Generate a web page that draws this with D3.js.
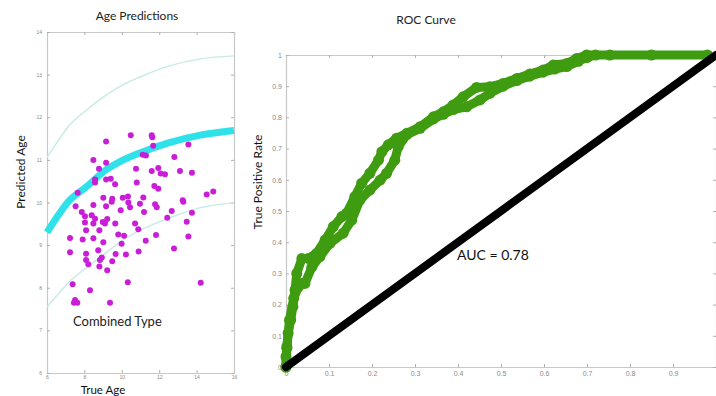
<!DOCTYPE html>
<html>
<head>
<meta charset="utf-8">
<script src="https://cdn.jsdelivr.net/npm/d3@7"></script>
<style>
  body { margin: 0; background: #fff; }
  svg { display: block; font-family: Lato, "Liberation Sans", sans-serif; }
  .tick text { fill: #8a8a8a; }
  .frame path.domain { stroke: #c8c8c8; }
  .frame .tick line { stroke: #b0b0b0; }
</style>
</head>
<body>
<svg id="svg" width="716" height="396"></svg>
<script>
// ---- Age Predictions data ----
const ageTicks = [6, 8, 10, 12, 14, 16];
const predTicks = [6, 7, 8, 9, 10, 11, 12, 13, 14];
const curveAge = [6, 6.6, 7.1, 8.2, 9.1, 10.0, 11.0, 12.5, 14.2, 16];
const midPred = [9.3, 9.7, 10.0, 10.4, 10.75, 10.98, 11.17, 11.4, 11.58, 11.69];
const upperPred = [11.06, 11.45, 11.76, 12.2, 12.5, 12.75, 12.95, 13.2, 13.37, 13.44];
const lowerPred = [7.55, 7.85, 8.1, 8.5, 8.8, 9.1, 9.35, 9.63, 9.88, 9.99];
const trueAge = [9.16, 10.48, 11.6, 11.63, 11.68, 13.56, 11.12, 11.29, 8.48, 9.16,
  8.78, 10.76, 11.6, 11.95, 12.08, 12.31, 12.81, 13.11, 13.75, 8.57,
  8.57, 9.16, 9.41, 9.64, 10.8, 11.74, 11.95, 7.64, 14.54, 14.89,
  9.01, 9.49, 10.05, 10.33, 11.15, 13.26, 7.53, 8.48, 9.16, 9.46,
  9.94, 10.35, 10.44, 10.97, 11.78, 11.87, 11.19, 13.29, 12.67, 7.86,
  8.03, 8.39, 8.57, 8.48, 8.03, 8.98, 9.1, 9.22, 9.65, 10.71,
  10.88, 12.43, 13.75, 13.47, 8.09, 8.8, 9.81, 10.12, 11.83, 13.56,
  7.23, 7.91, 8.48, 9.01, 9.99, 11.28, 7.23, 8.09, 8.74, 9.67,
  10.22, 10.9, 12.79, 8.09, 8.21, 8.93, 8.83, 8.8, 9.49, 9.22,
  7.37, 10.32, 14.22, 8.3, 7.5, 7.62, 7.44, 9.37];
const predAge = [11.43, 11.58, 11.58, 11.53, 11.33, 11.36, 11.12, 11.1, 11.0, 10.93,
  10.79, 10.79, 10.74, 10.81, 10.68, 10.66, 11.07, 10.74, 10.7, 10.54,
  10.47, 10.54, 10.56, 10.43, 10.47, 10.39, 10.32, 10.23, 10.19, 10.26,
  10.11, 10.09, 10.11, 10.14, 10.12, 10.05, 9.91, 9.94, 9.91, 10.02,
  9.82, 10.0, 9.89, 9.97, 9.96, 9.89, 9.78, 10.02, 9.8, 9.78,
  9.68, 9.7, 9.62, 9.51, 9.53, 9.54, 9.51, 9.61, 9.51, 9.51,
  9.37, 9.64, 9.76, 9.55, 9.35, 9.35, 9.25, 9.22, 9.24, 9.2,
  9.17, 9.13, 9.16, 9.07, 9.03, 9.1, 8.83, 8.8, 8.88, 8.79,
  8.78, 8.85, 8.92, 8.65, 8.55, 8.71, 8.65, 8.5, 8.62, 8.41,
  8.08, 8.13, 8.12, 7.94, 7.71, 7.65, 7.65, 7.65];

// ---- ROC data ----
const rateTicks = [0, 0.1, 0.2, 0.3, 0.4, 0.5, 0.6, 0.7, 0.8, 0.9, 1];
const fprA = [0, 0, 0.002, 0.005, 0.011, 0.016, 0.021, 0.025, 0.037, 0.052, 0.071, 0.091, 0.11, 0.13, 0.141, 0.16, 0.176, 0.195, 0.215, 0.223, 0.238, 0.257, 0.281, 0.312, 0.343, 0.366, 0.389, 0.412, 0.443, 0.474, 0.505, 0.537, 0.567, 0.598, 0.622, 0.653, 0.676, 0.699, 0.753, 0.85, 0.98];
const tprA = [0, 0.033, 0.065, 0.109, 0.151, 0.193, 0.247, 0.3, 0.348, 0.348, 0.364, 0.407, 0.45, 0.482, 0.493, 0.546, 0.589, 0.621, 0.663, 0.69, 0.712, 0.733, 0.749, 0.77, 0.802, 0.818, 0.84, 0.866, 0.896, 0.898, 0.909, 0.925, 0.939, 0.952, 0.968, 0.973, 0.989, 1, 1, 1, 1];
const fprB = [0, 0.002, 0.008, 0.018, 0.029, 0.035, 0.044, 0.06, 0.079, 0.102, 0.133, 0.153, 0.172, 0.195, 0.219, 0.234, 0.253, 0.261, 0.281, 0.312, 0.343, 0.366, 0.389, 0.42, 0.451, 0.474, 0.505, 0.537, 0.567, 0.598, 0.625, 0.653, 0.68, 0.7, 0.72];
const tprB = [0, 0.06, 0.15, 0.22, 0.257, 0.268, 0.268, 0.32, 0.354, 0.396, 0.429, 0.471, 0.535, 0.567, 0.599, 0.621, 0.663, 0.706, 0.745, 0.765, 0.795, 0.81, 0.825, 0.834, 0.856, 0.877, 0.9, 0.918, 0.932, 0.945, 0.955, 0.963, 0.98, 0.992, 1];
const aucLabel = "AUC = 0.78";

const svg = d3.select("#svg");

// ================= Age Predictions =================
const x1 = d3.scaleLinear().domain([6, 16]).range([47, 234]);
const y1 = d3.scaleLinear().domain([6, 14]).range([373, 32]);

const left = svg.append("g");

function frame(g, x, y, xt, yt, fmtX, fmtY, fs, padX, padY) {
  g.append("g").attr("class", "frame").attr("transform", "translate(0," + y.range()[0] + ")")
    .call(d3.axisBottom(x).tickValues(xt).tickSize(-3).tickPadding(padX).tickFormat(fmtX))
    .call(a => a.selectAll("text").attr("font-size", fs));
  g.append("g").attr("class", "frame").attr("transform", "translate(0," + y.range()[1] + ")")
    .call(d3.axisTop(x).tickValues(xt).tickSize(-3).tickFormat(""));
  g.append("g").attr("class", "frame").attr("transform", "translate(" + x.range()[0] + ",0)")
    .call(d3.axisLeft(y).tickValues(yt).tickSize(-3).tickPadding(padY).tickFormat(fmtY))
    .call(a => a.selectAll("text").attr("font-size", fs));
  g.append("g").attr("class", "frame").attr("transform", "translate(" + x.range()[1] + ",0)")
    .call(d3.axisRight(y).tickValues(yt).tickSize(-3).tickFormat(""));
  g.selectAll(".frame path.domain").attr("stroke-width", 1.2);
}

frame(left, x1, y1, ageTicks, predTicks, d3.format("d"), d3.format("d"), 5, 2, 5);

const line1 = d3.line().curve(d3.curveMonotoneX)
  .x(d => x1(d[0])).y(d => y1(d[1]));

left.append("path").datum(d3.zip(curveAge, upperPred)).attr("d", line1)
  .attr("fill", "none").attr("stroke", "#c4ebe5").attr("stroke-width", 1.4);
left.append("path").datum(d3.zip(curveAge, lowerPred)).attr("d", line1)
  .attr("fill", "none").attr("stroke", "#c4ebe5").attr("stroke-width", 1.4);
left.append("path").datum(d3.zip(curveAge, midPred)).attr("d", line1)
  .attr("fill", "none").attr("stroke", "#2fe2ea").attr("stroke-width", 7);

left.selectAll("circle.pt").data(d3.zip(trueAge, predAge)).enter().append("circle")
  .attr("class", "pt")
  .attr("cx", d => x1(d[0])).attr("cy", d => y1(d[1])).attr("r", 3)
  .attr("fill", "#c81fd6");

left.append("text").attr("x", 137).attr("y", 20).attr("text-anchor", "middle")
  .attr("font-size", 12).attr("fill", "#222").text("Age Predictions");
left.append("text").attr("transform", "translate(25,172) rotate(-90)").attr("text-anchor", "middle")
  .attr("font-size", 12).attr("fill", "#111").text("Predicted Age");
left.append("text").attr("x", 103).attr("y", 394).attr("text-anchor", "middle")
  .attr("font-size", 11.5).attr("fill", "#111").text("True Age");
left.append("text").attr("x", 73).attr("y", 326)
  .attr("font-size", 13).attr("fill", "#222").text("Combined Type");

// ================= ROC Curve =================
const x2 = d3.scaleLinear().domain([0, 1]).range([286, 716]);
const y2 = d3.scaleLinear().domain([0, 1]).range([367, 55]);

const right = svg.append("g");
const rocFmt = d => d === 0 ? "0" : d === 1 ? "1" : d3.format(".1f")(d);
frame(right, x2, y2, rateTicks.slice(0, 10), rateTicks, rocFmt, rocFmt, 7, 4, 4);

const line2 = d3.line().x(d => x2(d[0])).y(d => y2(d[1]));
const green = "#3f9b10";
[d3.zip(fprA, tprA), d3.zip(fprB, tprB)].forEach(pts => {
  right.append("path").datum(pts).attr("d", line2)
    .attr("fill", "none").attr("stroke", green).attr("stroke-width", 9)
    .attr("stroke-linejoin", "round").attr("stroke-linecap", "round");
  right.append("g").selectAll("circle").data(pts).enter().append("circle")
    .attr("cx", d => x2(d[0])).attr("cy", d => y2(d[1])).attr("r", 5.5)
    .attr("fill", green);
});

right.append("path").datum([[0, 0], [1, 1]]).attr("d", line2)
  .attr("stroke", "#000").attr("stroke-width", 8).attr("stroke-linecap", "round");

right.append("text").attr("x", 426).attr("y", 24).attr("text-anchor", "middle")
  .attr("font-size", 12).attr("fill", "#222").text("ROC Curve");
right.append("text").attr("transform", "translate(262,182) rotate(-90)").attr("text-anchor", "middle")
  .attr("font-size", 12).attr("fill", "#111").text("True Positive Rate");
right.append("text").attr("x", 457).attr("y", 260)
  .attr("font-size", 14).attr("fill", "#111").text(aucLabel);
</script>
</body>
</html>
